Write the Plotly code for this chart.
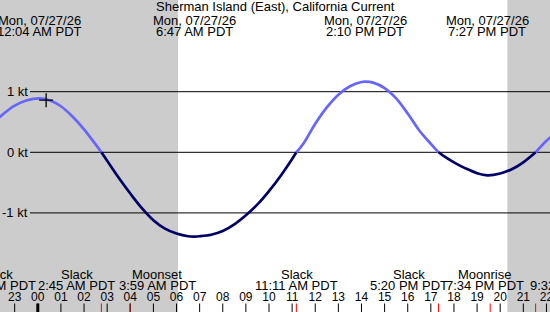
import plotly.graph_objects as go

W, H = 550, 312

# ---------------- data ----------------
t_hours = [-2.0, -1.5, -1.0, -0.5, 0.067, 0.5, 1.0, 1.5, 2.0, 2.5, 2.75,
           3.0, 3.5, 4.0, 4.5, 5.0, 5.5, 6.0, 6.5, 6.783, 7.0, 7.5, 8.0,
           8.5, 9.0, 9.5, 10.0, 10.5, 11.0, 11.183, 11.5, 12.0, 12.5, 13.0,
           13.5, 14.0, 14.167, 14.5, 15.0, 15.5, 16.0, 16.5, 17.0, 17.333,
           17.5, 18.0, 18.5, 19.0, 19.45, 20.0, 20.5, 21.0, 21.533, 22.0, 22.5]
current_kt = [0.46, 0.63, 0.77, 0.855, 0.89, 0.86, 0.76, 0.59, 0.38, 0.13, 0.0,
              -0.14, -0.42, -0.68, -0.92, -1.12, -1.26, -1.34, -1.385, -1.39, -1.385, -1.36, -1.30,
              -1.19, -1.04, -0.86, -0.64, -0.39, -0.11, 0.0, 0.15, 0.47, 0.74, 0.95,
              1.09, 1.16, 1.165, 1.15, 1.06, 0.89, 0.64, 0.36, 0.14, 0.0,
              -0.047, -0.165, -0.265, -0.345, -0.38, -0.35, -0.28, -0.165, 0.0, 0.19, 0.36]

x_range = [-1.635, 22.154]
y_range = [-2.635, 2.513]

title_text = "Sherman Island (East), California Current"
date_label = "Mon, 07/27/26"
extreme_hours = [0.067, 6.783, 14.167, 19.45]
extreme_labels = ["12:04 AM PDT", "6:47 AM PDT", "2:10 PM PDT", "7:27 PM PDT"]

event_names = ["Slack", "Slack", "Moonset", "Slack", "Slack", "Moonrise", "Slack"]
event_times = ["8:55 PM PDT", "2:45 AM PDT", "3:59 AM PDT", "11:11 AM PDT",
               "5:20 PM PDT", "7:34 PM PDT", "9:32 PM PDT"]
event_tick_hours = [2.75, 3.983, 11.183, 17.333, 19.567, 21.533]

hour_ticks = list(range(-1, 23))
hour_labels = ["23"] + ["%02d" % h for h in range(0, 23)]

sunrise_h = 6.064
sunset_h = 20.31

now_h = 0.36
now_kt = 0.86

y_grid = [1, 0, -1]
y_grid_labels = ["1 kt", "0 kt", "-1 kt"]

# ---------------- layout helpers (pixel -> paper/data) ----------------
def py(px):  # pixel row -> paper fraction
    return 1 - px / H

def px_to_val(px):
    return y_range[1] - px / H * (y_range[1] - y_range[0])

FONT = "Liberation Sans, Arial, sans-serif"
FLOOD = "#6666ff"
EBB = "#000066"

fig = go.Figure()

# current curve split at slack points
segments = []
cur = []
for t, v in zip(t_hours, current_kt):
    cur.append((t, v))
    if v == 0 and len(cur) > 1:
        segments.append(cur)
        cur = [(t, v)]
if len(cur) > 1:
    segments.append(cur)

for seg in segments:
    vals = [v for _, v in seg if v != 0]
    color = FLOOD if vals and vals[0] > 0 else EBB
    fig.add_trace(go.Scatter(
        x=[p[0] for p in seg], y=[p[1] for p in seg], mode="lines",
        line=dict(color=color, width=2.7, shape="spline", smoothing=1),
        hoverinfo="skip", showlegend=False))

# current-time marker
fig.add_trace(go.Scatter(x=[now_h], y=[now_kt], mode="markers",
                         marker=dict(symbol="cross-thin", size=10,
                                     line=dict(color="black", width=1.3)),
                         showlegend=False, hoverinfo="skip"))

# hour ticks
tick_top = px_to_val(303.5)
tick_bot = y_range[0]
hx, hy = [], []
for h in hour_ticks:
    hx += [h, h, None]
    hy += [tick_bot, tick_top, None]
fig.add_trace(go.Scatter(x=hx, y=hy, mode="lines", line=dict(color="black", width=1),
                         showlegend=False, hoverinfo="skip"))
fig.add_trace(go.Scatter(x=[0, 0], y=[tick_bot, tick_top], mode="lines",
                         line=dict(color="black", width=3),
                         showlegend=False, hoverinfo="skip"))
ex, ey = [], []
for h in event_tick_hours:
    ex += [h, h, None]
    ey += [tick_bot, tick_top, None]
fig.add_trace(go.Scatter(x=ex, y=ey, mode="lines", line=dict(color="red", width=1),
                         showlegend=False, hoverinfo="skip"))

# hour labels
fig.add_trace(go.Scatter(x=hour_ticks, y=[px_to_val(297.5)] * len(hour_ticks),
                         mode="text", text=hour_labels, textposition="middle center",
                         textfont=dict(family=FONT, size=12, color="black"),
                         showlegend=False, hoverinfo="skip"))

shapes = [
    dict(type="rect", xref="x", yref="paper", x0=x_range[0] - 1, x1=sunrise_h, y0=0, y1=1,
         fillcolor="#cccccc", line=dict(width=0), layer="below"),
    dict(type="rect", xref="x", yref="paper", x0=sunset_h, x1=x_range[1] + 1, y0=0, y1=1,
         fillcolor="#cccccc", line=dict(width=0), layer="below"),
]
for g in y_grid:
    shapes.append(dict(type="line", xref="paper", yref="y", x0=30 / W, x1=1, y0=g, y1=g,
                       line=dict(color="black", width=1), layer="below"))

annotations = []
def ann(text, x, y, xref="paper", yref="paper", xanchor="center", size=13):
    annotations.append(dict(text=text, x=x, y=y, xref=xref, yref=yref,
                            xanchor=xanchor, yanchor="middle", showarrow=False,
                            font=dict(family=FONT, size=size, color="black"),
                            borderpad=0))

ann(title_text, 0.5, py(6.6))
for h, lab in zip(extreme_hours, extreme_labels):
    ann(date_label, h, py(20.6), xref="x")
    ann(lab, h, py(31.8), xref="x")

label_px = [-3, 76.5, 157, 296.5, 408.5, 484.5, 569]
for cx, name, tm in zip(label_px, event_names, event_times):
    ann(name, cx / W, py(274.2))
    ann(tm, cx / W, py(285.9))

for g, lab in zip(y_grid, y_grid_labels):
    ann(lab, 28.5 / W, g, yref="y", xanchor="right")

fig.update_layout(
    width=W, height=H, margin=dict(l=0, r=0, t=0, b=0, pad=0),
    paper_bgcolor="white", plot_bgcolor="white",
    xaxis=dict(range=x_range, visible=False, fixedrange=True),
    yaxis=dict(range=y_range, visible=False, fixedrange=True),
    shapes=shapes, annotations=annotations, showlegend=False,
)

fig.write_html("out.html")
